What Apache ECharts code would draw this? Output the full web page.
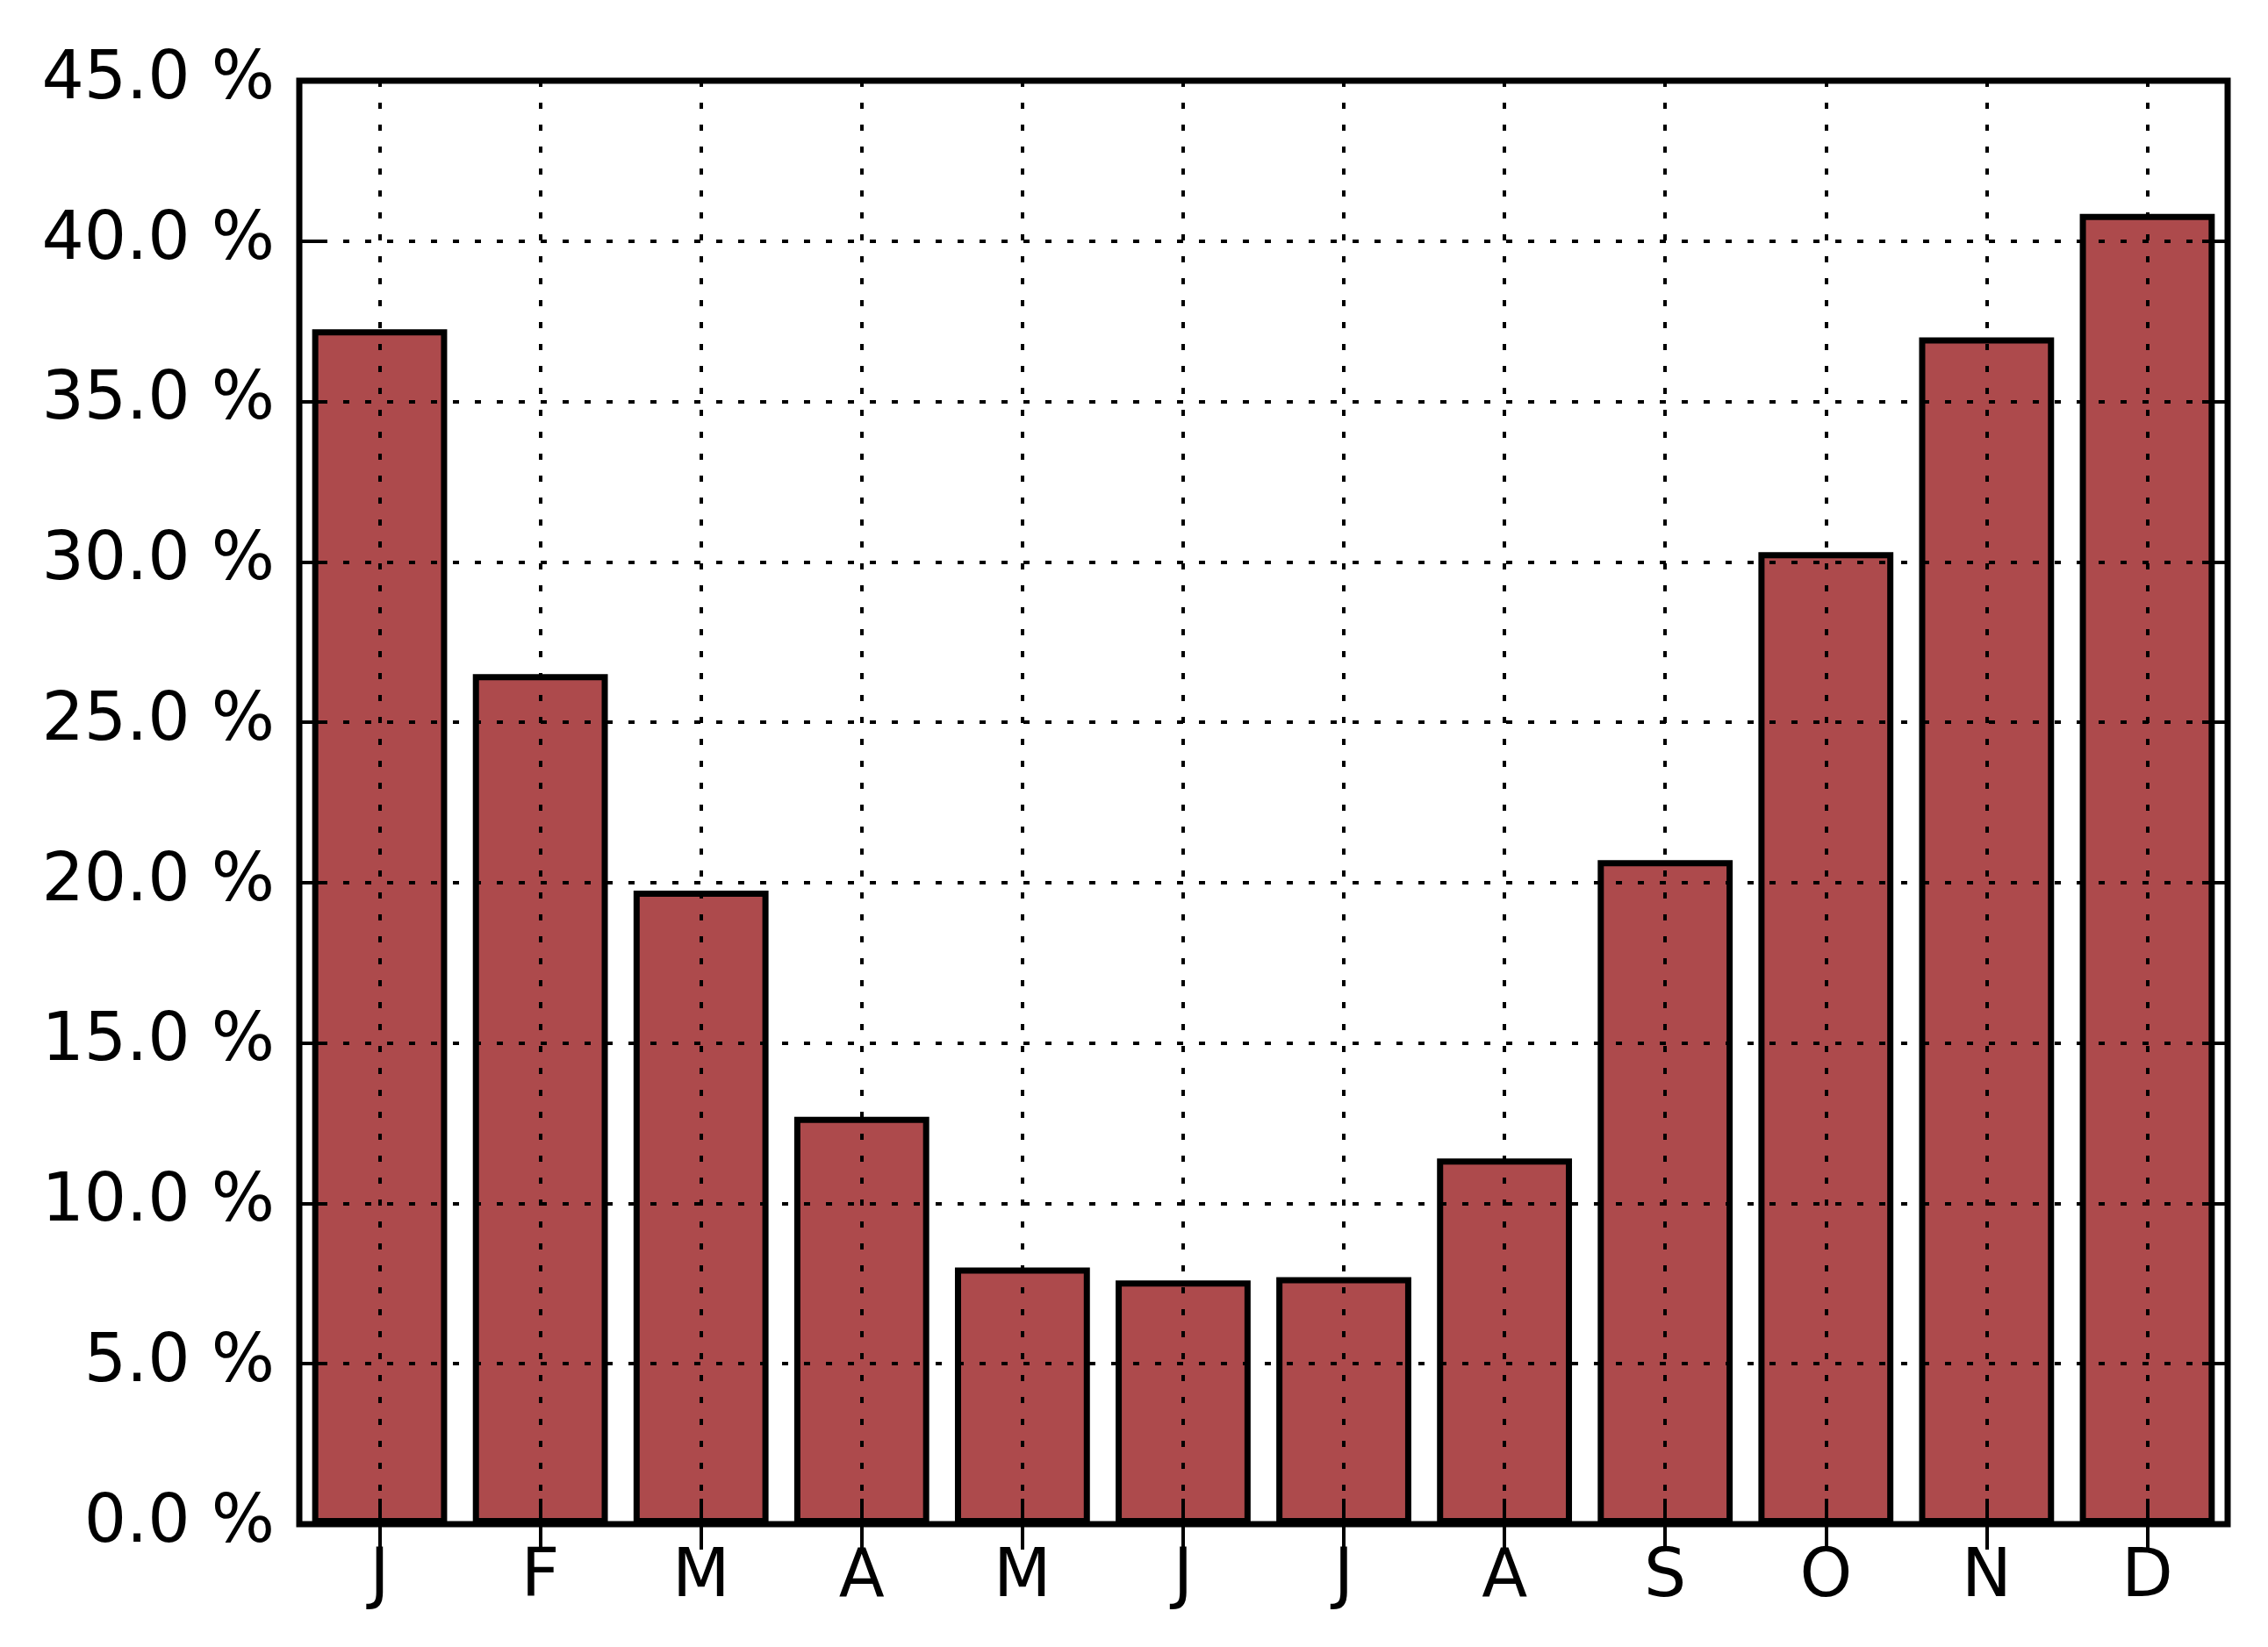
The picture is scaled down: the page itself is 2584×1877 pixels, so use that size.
<!DOCTYPE html>
<html>
<head>
<meta charset="utf-8">
<script src="https://cdn.jsdelivr.net/npm/echarts@6/dist/echarts.min.js"></script>
<style>
html,body{margin:0;padding:0;background:#fff;}
#chart{width:2584px;height:1877px;}
</style>
</head>
<body>
<div id="chart"></div>
<script>
const months = ['J','F','M','A','M','J','J','A','S','O','N','D'];
const values = [37.25, 26.5, 19.75, 12.7, 8.0, 7.6, 7.7, 11.4, 20.7, 30.3, 37.0, 40.85];
const yMin = 0, yMax = 45, yStep = 5;

const FONT = 'DejaVu Sans';
const FS = 76;
const gridDash = {color:'#000', width:4, type:[7,18]};
const tickStyle = {color:'#000', width:4};
const TL = 29;

const chart = echarts.init(document.getElementById('chart'), null, {renderer:'canvas'});
chart.setOption({
  animation:false,
  backgroundColor:'#fff',
  grid:{left:341, right:46, top:92, bottom:140, show:true, borderColor:'#000', borderWidth:7, backgroundColor:'transparent', containLabel:false, z:5},
  xAxis:[
    {type:'category', data:months, position:'bottom', boundaryGap:true, z:4,
     axisLine:{show:false},
     axisTick:{show:true, inside:true, alignWithLabel:true, length:TL, lineStyle:tickStyle},
     axisLabel:{color:'#000', fontFamily:FONT, fontSize:FS, margin:24},
     splitLine:{show:true, alignWithLabel:true, lineStyle:gridDash}},
    {type:'category', data:months, position:'top', boundaryGap:true, z:4,
     axisLine:{show:false},
     axisTick:{show:true, inside:true, alignWithLabel:true, length:TL, lineStyle:tickStyle},
     axisLabel:{show:false}, splitLine:{show:false}}
  ],
  yAxis:[
    {type:'value', min:yMin, max:yMax, interval:yStep, position:'left', z:4,
     axisLine:{show:false},
     axisTick:{show:true, inside:true, length:TL, lineStyle:tickStyle},
     axisLabel:{color:'#000', fontFamily:FONT, fontSize:FS, margin:28, formatter:v=>v.toFixed(1)+' %'},
     splitLine:{show:true, lineStyle:gridDash}},
    {type:'value', min:yMin, max:yMax, interval:yStep, position:'right', z:4,
     axisLine:{show:false},
     axisTick:{show:true, inside:true, length:TL, lineStyle:tickStyle},
     axisLabel:{show:false}, splitLine:{show:false}}
  ],
  series:[{
    type:'bar', data:values, xAxisIndex:0, yAxisIndex:0, barWidth:'84%', z:1,
    itemStyle:{color:'#ad4a4c', borderColor:'#000', borderWidth:7}
  }]
});
</script>
</body>
</html>
